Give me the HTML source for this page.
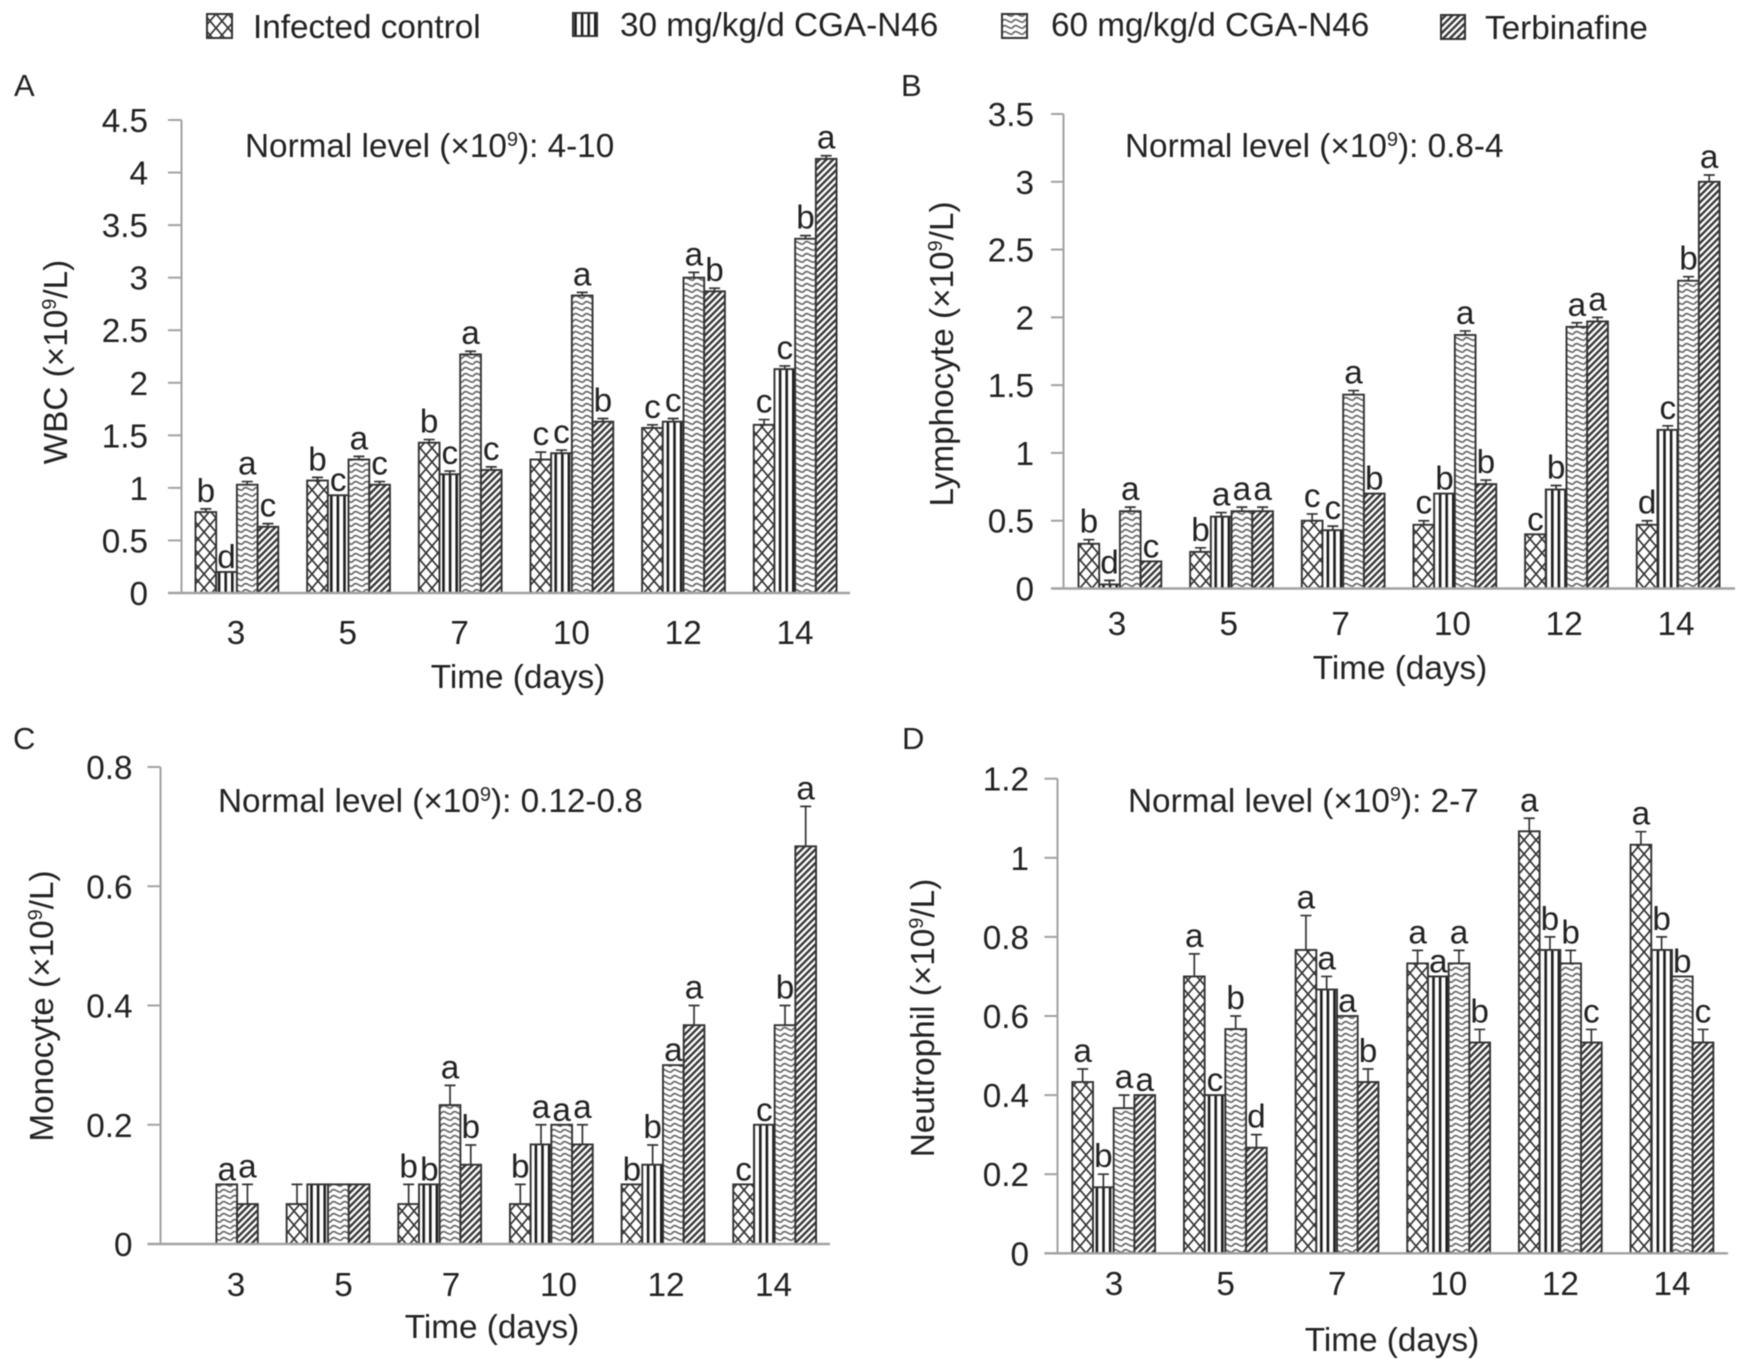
<!DOCTYPE html>
<html lang="en">
<head>
<meta charset="utf-8">
<title>Blood cell counts over time</title>
<style>
  html, body { margin: 0; padding: 0; background: #fff; }
  #figure { display: block; width: 1746px; height: 1371px; filter: blur(0.6px); }
  text { font-family: "Liberation Sans", sans-serif; fill: #222; }
  .big { font-size: 33.3px; }
  .sup { font-size: 20px; }
</style>
</head>
<body>
<svg id="figure" xmlns="http://www.w3.org/2000/svg" width="1746" height="1371" viewBox="0 0 1746 1371">
  <defs>
    <pattern id="p-cross" patternUnits="userSpaceOnUse" width="12" height="14">
      <rect width="12" height="14" fill="#fff"/>
      <path d="M0 0L12 14M12 0L0 14" stroke="#333" stroke-width="1.7" fill="none"/>
    </pattern>
    <pattern id="p-vert" patternUnits="userSpaceOnUse" width="6.6" height="10">
      <rect width="6.6" height="10" fill="#fff"/>
      <rect x="0" width="2.6" height="10" fill="#1c1c1c"/>
    </pattern>
    <pattern id="p-wave" patternUnits="userSpaceOnUse" width="11" height="6">
      <rect width="11" height="6" fill="#fff"/>
      <path d="M0 4.4Q2.75 0.4 5.5 2.2T11 4.4" stroke="#6a6a6a" stroke-width="1.7" fill="none"/>
    </pattern>
    <pattern id="p-hatch" patternUnits="userSpaceOnUse" width="4.8" height="4.8" patternTransform="rotate(45)">
      <rect width="4.8" height="4.8" fill="#fff"/>
      <rect x="0" width="2.4" height="4.8" fill="#3a3a3a"/>
    </pattern>
  </defs>

  <g id="legend">
    <g>
      <rect x="207" y="14" width="25" height="24" fill="url(#p-cross)" stroke="#333" stroke-width="2"/>
      <text class="big" x="253" y="38">Infected control</text>
    </g>
    <g>
      <rect x="573" y="13" width="24" height="23" fill="url(#p-vert)" stroke="#333" stroke-width="2"/>
      <text class="big" x="620" y="36">30 mg/kg/d CGA-N46</text>
    </g>
    <g>
      <rect x="1002" y="14" width="25" height="24" fill="url(#p-wave)" stroke="#333" stroke-width="2"/>
      <text class="big" x="1051" y="36">60 mg/kg/d CGA-N46</text>
    </g>
    <g>
      <rect x="1441" y="15" width="24" height="24" fill="url(#p-hatch)" stroke="#333" stroke-width="2"/>
      <text class="big" x="1485" y="39">Terbinafine</text>
    </g>
  </g>

  <text x="14" y="96" font-size="31">A</text>
  <text x="901" y="96" font-size="31">B</text>
  <text x="13" y="749" font-size="31">C</text>
  <text x="902" y="749" font-size="31">D</text>

  <text class="big" x="245" y="157">Normal level (×10<tspan class="sup" dy="-11">9</tspan><tspan dy="11">): 4-10</tspan></text>
  <text class="big" x="1125" y="157">Normal level (×10<tspan class="sup" dy="-11">9</tspan><tspan dy="11">): 0.8-4</tspan></text>
  <text class="big" x="218" y="812">Normal level (×10<tspan class="sup" dy="-11">9</tspan><tspan dy="11">): 0.12-0.8</tspan></text>
  <text class="big" x="1128" y="812">Normal level (×10<tspan class="sup" dy="-11">9</tspan><tspan dy="11">): 2-7</tspan></text>

  <text class="big" text-anchor="middle" transform="translate(67 362) rotate(-90)">WBC (×10<tspan class="sup" dy="-11">9</tspan><tspan dy="11">/L)</tspan></text>
  <text class="big" text-anchor="middle" transform="translate(953 354) rotate(-90)">Lymphocyte (×10<tspan class="sup" dy="-11">9</tspan><tspan dy="11">/L)</tspan></text>
  <text class="big" text-anchor="middle" transform="translate(53 1006) rotate(-90)">Monocyte (×10<tspan class="sup" dy="-11">9</tspan><tspan dy="11">/L)</tspan></text>
  <text class="big" text-anchor="middle" transform="translate(934 1018) rotate(-90)">Neutrophil (×10<tspan class="sup" dy="-11">9</tspan><tspan dy="11">/L)</tspan></text>

  <text class="big" text-anchor="middle" x="518" y="688">Time (days)</text>
  <text class="big" text-anchor="middle" x="1400" y="679">Time (days)</text>
  <text class="big" text-anchor="middle" x="492" y="1338">Time (days)</text>
  <text class="big" text-anchor="middle" x="1392" y="1351">Time (days)</text>

  <g id="charts"></g>
</svg>

<script>
var categories = ['3', '5', '7', '10', '12', '14'];
var seriesNames = ['infected-control', '30-mg', '60-mg', 'terbinafine'];

// Panel A: WBC
var wbcTicks = [0, 0.5, 1, 1.5, 2, 2.5, 3, 3.5, 4, 4.5];
var wbcInfected = [0.77, 1.07, 1.43, 1.27, 1.57, 1.6];
var wbc30 = [0.2, 0.93, 1.13, 1.33, 1.63, 2.13];
var wbc60 = [1.03, 1.27, 2.27, 2.83, 3, 3.37];
var wbcTerb = [0.63, 1.03, 1.17, 1.63, 2.87, 4.13];
var wbcErrInfected = [0.03, 0.03, 0.03, 0.07, 0.03, 0.05];
var wbcErr30 = [0, 0, 0.03, 0.03, 0.03, 0.03];
var wbcErr60 = [0.03, 0.03, 0.03, 0.03, 0.05, 0.03];
var wbcErrTerb = [0.03, 0.03, 0.03, 0.03, 0.03, 0.03];
var wbcLetters = ['bdac', 'bcac', 'bcac', 'ccab', 'ccab', 'ccba'];

// Panel B: Lymphocyte
var lymTicks = [0, 0.5, 1, 1.5, 2, 2.5, 3, 3.5];
var lymInfected = [0.33, 0.27, 0.5, 0.47, 0.4, 0.47];
var lym30 = [0.03, 0.53, 0.43, 0.7, 0.73, 1.17];
var lym60 = [0.57, 0.57, 1.43, 1.87, 1.93, 2.27];
var lymTerb = [0.2, 0.57, 0.7, 0.77, 1.97, 3];
var lymErrInfected = [0.03, 0.03, 0.05, 0.03, 0, 0.03];
var lymErr30 = [0.03, 0.03, 0.03, 0, 0.03, 0.03];
var lymErr60 = [0.03, 0.03, 0.03, 0.03, 0.03, 0.03];
var lymErrTerb = [0, 0.03, 0, 0.03, 0.03, 0.05];
var lymLetters = ['bdac', 'baaa', 'ccab', 'cbab', 'cbaa', 'dcba'];

// Panel C: Monocyte
var monoTicks = [0, 0.2, 0.4, 0.6, 0.8];
var monoInfected = [null, 0.067, 0.067, 0.067, 0.1, 0.1];
var mono30 = [null, 0.1, 0.1, 0.167, 0.133, 0.2];
var mono60 = [0.1, 0.1, 0.233, 0.2, 0.3, 0.367];
var monoTerb = [0.067, 0.1, 0.133, 0.167, 0.367, 0.667];
var monoErrInfected = [0, 0.033, 0.033, 0.033, 0, 0];
var monoErr30 = [0, 0, 0, 0.033, 0.033, 0];
var monoErr60 = [0, 0, 0.033, 0, 0, 0.033];
var monoErrTerb = [0.033, 0, 0.033, 0.033, 0.033, 0.067];
var monoLetters = ['  aa', '    ', 'bbab', 'baaa', 'bbaa', 'ccba'];

// Panel D: Neutrophil
var neutTicks = [0, 0.2, 0.4, 0.6, 0.8, 1, 1.2];
var neutInfected = [0.433, 0.7, 0.767, 0.733, 1.067, 1.033];
var neut30 = [0.167, 0.4, 0.667, 0.7, 0.767, 0.767];
var neut60 = [0.367, 0.567, 0.6, 0.733, 0.733, 0.7];
var neutTerb = [0.4, 0.267, 0.433, 0.533, 0.533, 0.533];
var neutErrInfected = [0.033, 0.057, 0.087, 0.033, 0.033, 0.033];
var neutErr30 = [0.033, 0, 0.033, 0, 0.033, 0.033];
var neutErr60 = [0.033, 0.033, 0, 0.033, 0.033, 0];
var neutErrTerb = [0, 0.033, 0.033, 0.033, 0.033, 0.033];
var neutLetters = ['abaa', 'acbd', 'aaab', 'aaab', 'abbc', 'abbc'];

var fills = ['url(#p-cross)', 'url(#p-vert)', 'url(#p-wave)', 'url(#p-hatch)'];
var panels = [
  { id: 'a', ticks: wbcTicks, values: [wbcInfected, wbc30, wbc60, wbcTerb],
    errors: [wbcErrInfected, wbcErr30, wbcErr60, wbcErrTerb], letters: wbcLetters,
    axisX: 181.5, tickLeft: 168, right: 850, y0: 593, yTop: 120,
    barStart: 195.5, labelRight: 148, labelX: 236, labelStep: 111.8, labelY: 644 },
  { id: 'b', ticks: lymTicks, values: [lymInfected, lym30, lym60, lymTerb],
    errors: [lymErrInfected, lymErr30, lymErr60, lymErrTerb], letters: lymLetters,
    axisX: 1063.5, tickLeft: 1051, right: 1735, y0: 588.5, yTop: 114,
    barStart: 1078.5, labelRight: 1034, labelX: 1117, labelStep: 111.8, labelY: 635 },
  { id: 'c', ticks: monoTicks, values: [monoInfected, mono30, mono60, monoTerb],
    errors: [monoErrInfected, monoErr30, monoErr60, monoErrTerb], letters: monoLetters,
    axisX: 160.5, tickLeft: 147.5, right: 830, y0: 1244, yTop: 767,
    barStart: 175, labelRight: 132.5, labelX: 236, labelStep: 107.5, labelY: 1296 },
  { id: 'd', ticks: neutTicks, values: [neutInfected, neut30, neut60, neutTerb],
    errors: [neutErrInfected, neutErr30, neutErr60, neutErrTerb], letters: neutLetters,
    axisX: 1057.5, tickLeft: 1044.5, right: 1728, y0: 1253.3, yTop: 778.7,
    barStart: 1072.3, labelRight: 1029, labelX: 1114, labelStep: 111.6, labelY: 1295 }
];

var GROUP_STEP = 111.65;
var BAR_W = 20.7;
var AXIS_COLOR = '#a2a2a2';
var NS = 'http://www.w3.org/2000/svg';
var root = document.getElementById('charts');

function mk(tag, attrs, parent) {
  var el = document.createElementNS(NS, tag);
  for (var k in attrs) { el.setAttribute(k, attrs[k]); }
  parent.appendChild(el);
  return el;
}

function drawPanel(p) {
  var maxV = p.ticks[p.ticks.length - 1];
  var yScale = function (v) { return p.y0 - (v / maxV) * (p.y0 - p.yTop); };
  var xScale = function (g, s) { return p.barStart + g * GROUP_STEP + s * BAR_W; };

  var g = mk('g', {}, root);
  
  

  // bars, error bars and significance letters
  p.values.forEach(function (vals, s) {
    vals.forEach(function (v, i) {
      if (v === null) { return; }
      var x = xScale(i, s);
      var top = yScale(v);
      var bar = mk('rect', { x: x, y: top, width: BAR_W, height: p.y0 - top, fill: fills[s], stroke: '#333', 'stroke-width': 1.9 }, g);
      
      

      var err = p.errors[s][i];
      var cx = x + BAR_W / 2;
      var errTop = yScale(v + err);
      if (err > 0) {
        var eb = mk('path', { d: 'M' + cx + ' ' + top + 'V' + errTop + 'M' + (cx - 5.5) + ' ' + errTop + 'H' + (cx + 5.5), stroke: '#333', 'stroke-width': 1.7, fill: 'none' }, g);
        
        
      }

      var letter = p.letters[i].charAt(s);
      if (letter !== ' ') {
        var t = mk('text', { x: cx, y: errTop - (err > 0 ? 7 : 4), 'text-anchor': 'middle', 'font-size': 33.3 }, g);
        t.textContent = letter;
        
        
      }
    });
  });

  // y axis
  var yAxis = mk('line', { x1: p.axisX, x2: p.axisX, y1: p.yTop, y2: p.y0, stroke: AXIS_COLOR, 'stroke-width': 2 }, g);
  
  

  p.ticks.forEach(function (tv) {
    var ty = yScale(tv);
    if (tv !== 0) {
      var tick = mk('line', { x1: p.tickLeft, x2: p.axisX, y1: ty, y2: ty, stroke: AXIS_COLOR, 'stroke-width': 2 }, g);
      
      
    }
    var lab = mk('text', { x: p.labelRight, y: ty + 12, 'text-anchor': 'end', 'font-size': 33.3 }, g);
    lab.textContent = String(tv);
    
    
  });

  // x axis
  var xAxis = mk('line', { x1: p.tickLeft, x2: p.right, y1: p.y0, y2: p.y0, stroke: AXIS_COLOR, 'stroke-width': 2.4 }, g);
  
  

  categories.forEach(function (c, i) {
    var lab = mk('text', { x: p.labelX + i * p.labelStep, y: p.labelY, 'text-anchor': 'middle', 'font-size': 33.3 }, g);
    lab.textContent = c;
    
    
  });
}

panels.forEach(drawPanel);
</script>
</body>
</html>
